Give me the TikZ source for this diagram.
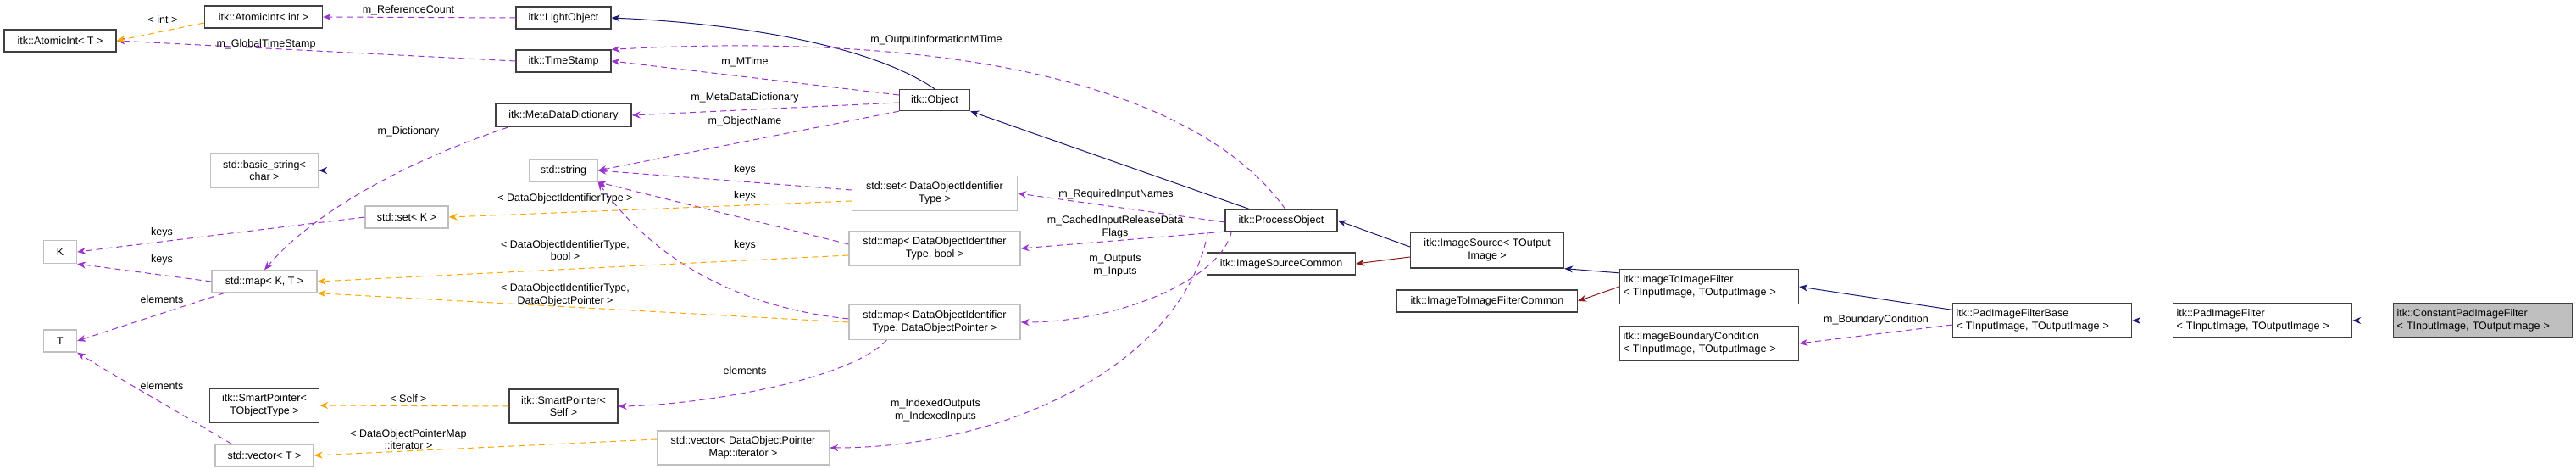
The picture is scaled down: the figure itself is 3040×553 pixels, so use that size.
\documentclass[tikz,border=0pt]{standalone}
\usepackage{fontspec}
\setmainfont{Liberation Sans}
\usetikzlibrary{arrows.meta}
\definecolor{inhblue}{HTML}{191970}
\definecolor{protred}{HTML}{8B1A1A}
\definecolor{usepurple}{HTML}{9A32CD}
\definecolor{tmplorange}{HTML}{FFA500}
\tikzset{
 cls/.style={rectangle, draw=black!75, line width=1.3pt, fill=white, inner sep=2pt, align=center, font=\fontsize{12.5}{14.5}\selectfont},
 ext/.style={cls, draw=black!25},
 lbl/.style={inner sep=0pt, align=center, font=\fontsize{12.5}{14.5}\selectfont},
 iline/.style={-{Stealth[length=10pt,width=8pt]}, inhblue, line width=1pt},
 rline/.style={-{Stealth[length=10pt,width=8pt]}, protred, line width=1pt},
 uline/.style={-{Stealth[length=10pt,width=8pt]}, usepurple, line width=1pt, dash pattern=on 7pt off 5pt},
 tline/.style={-{Stealth[length=10pt,width=8pt]}, tmplorange, line width=1pt, dash pattern=on 7pt off 5pt}
}
\begin{document}
\begin{tikzpicture}[x=1pt, y=-1pt]
\useasboundingbox (0,0) rectangle (3040,553);
% classes
\node (aiT) [cls, minimum width=132pt, minimum height=26pt] at (71,48) {itk::AtomicInt< T >};
\node (aiInt) [cls, minimum width=139pt, minimum height=26pt] at (311,20) {itk::AtomicInt< int >};
\node (light) [cls, minimum width=112pt, minimum height=26pt] at (665,21) {itk::LightObject};
\node (ts) [cls, minimum width=112pt, minimum height=26pt] at (665,72) {itk::TimeStamp};
\node (mdd) [cls, minimum width=160pt, minimum height=27pt] at (665,136) {itk::MetaDataDictionary};
\node (bstr) [ext, minimum width=127pt, minimum height=41pt] at (312,201) {std::basic\_string<\\char >};
\node (str) [ext, minimum width=80pt, minimum height=26pt] at (665,201) {std::string};
\node (setK) [ext, minimum width=98pt, minimum height=26pt] at (480,256) {std::set< K >};
\node (K) [ext, minimum width=39pt, minimum height=27pt] at (71,297) {K};
\node (mapKT) [ext, minimum width=124pt, minimum height=26pt] at (312,332) {std::map< K, T >};
\node (T) [ext, minimum width=39pt, minimum height=26pt] at (71,402) {T};
\node (spT) [cls, minimum width=129pt, minimum height=40pt] at (312,478) {itk::SmartPointer<\\TObjectType >};
\node (spS) [cls, minimum width=128pt, minimum height=40pt] at (665,479) {itk::SmartPointer<\\Self >};
\node (vecT) [ext, minimum width=116pt, minimum height=26pt] at (312,537) {std::vector< T >};
\node (obj) [cls, minimum width=83pt, minimum height=25pt] at (1103,118) {itk::Object};
\node (setD) [ext, minimum width=195pt, minimum height=41pt] at (1103,228) {std::set< DataObjectIdentifier\\Type >};
\node (mapDB) [ext, minimum width=202pt, minimum height=41pt] at (1103,293) {std::map< DataObjectIdentifier\\Type, bool >};
\node (mapDP) [ext, minimum width=202pt, minimum height=41pt] at (1103,380) {std::map< DataObjectIdentifier\\Type, DataObjectPointer >};
\node (vecD) [ext, minimum width=203pt, minimum height=40pt] at (877,528) {std::vector< DataObjectPointer\\Map::iterator >};
\node (po) [cls, minimum width=132pt, minimum height=25pt] at (1512,260) {itk::ProcessObject};
\node (isc) [cls, minimum width=175pt, minimum height=26pt] at (1512,311) {itk::ImageSourceCommon};
\node (is) [cls, minimum width=181pt, minimum height=42pt] at (1755,295) {itk::ImageSource< TOutput\\Image >};
\node (i2ifc) [cls, minimum width=213pt, minimum height=26pt] at (1755,355) {itk::ImageToImageFilterCommon};
\node (i2if) [cls, minimum width=211pt, minimum height=41pt, align=left, text width=203pt] at (2017,338) {itk::ImageToImageFilter\\< TInputImage, TOutputImage >};
\node (bc) [cls, minimum width=211pt, minimum height=41pt, align=left, text width=203pt] at (2017,405) {itk::ImageBoundaryCondition\\< TInputImage, TOutputImage >};
\node (base) [cls, minimum width=211pt, minimum height=40pt, align=left, text width=203pt] at (2410,378) {itk::PadImageFilterBase\\< TInputImage, TOutputImage >};
\node (pad) [cls, minimum width=211pt, minimum height=40pt, align=left, text width=203pt] at (2670,378) {itk::PadImageFilter\\< TInputImage, TOutputImage >};
\node (cpad) [cls, fill=black!25, minimum width=211pt, minimum height=40pt, align=left, text width=203pt] at (2930,378) {itk::ConstantPadImageFilter\\< TInputImage, TOutputImage >};
% inheritance
\draw[iline] (obj.north) .. controls (1030,55) and (880,28) .. (light.east);
\draw[iline] (po.north west) ++(30,0) coordinate (poT) -- (obj.south east);
\draw[iline] (is.west) ++(0,-4) -- (po.east);
\draw[iline] (i2if.north west) ++(0,5) -- (is.south east);
\draw[iline] (base.north west) ++(0,8) -- (i2if.east);
\draw[iline] (pad.west) -- (base.east);
\draw[iline] (cpad.west) -- (pad.east);
\draw[iline] (str.west) -- (bstr.east);
\draw[rline] (is.west) ++(0,8) -- (isc.east);
\draw[rline] (i2if.west) -- (i2ifc.east);
% members
\draw[uline] (light.west) -- (aiInt.east);
\draw[uline] (ts.west) -- (aiT.east);
\draw[uline] (obj.west) ++(0,-6) -- (ts.east);
\draw[uline] (po.north) ++(5,0) .. controls (1420,110) and (1150,35) .. (ts.north east);
\draw[uline] (obj.west) ++(0,3) -- (mdd.east);
\draw[uline] (obj.south west) -- (str.east);
\draw[uline] (mdd.south west) ++(15,0) .. controls (480,190) and (370,250) .. (mapKT.north);
\draw[uline] (setK.west) -- (K.east);
\draw[uline] (mapKT.west) -- (K.south east);
\draw[uline] (mapKT.south west) ++(15,0) -- (T.east);
\draw[uline] (vecT.north west) ++(20,0) .. controls (200,480) and (130,440) .. (T.south east);
\draw[uline] (setD.west) ++(0,-4) -- (str.east);
\draw[uline] (mapDB.west) ++(0,-5) -- (str.south east);
\draw[uline] (mapDP.west) ++(0,-4) .. controls (850,360) and (760,290) .. (str.south east);
\draw[uline] (mapDP.south west) ++(45,0) .. controls (1000,450) and (820,478) .. (spS.east);
\draw[uline] (po.west) ++(0,2) -- (setD.east);
\draw[uline] (po.south west) -- (mapDB.east);
\draw[uline] (po.south west) ++(8,0) .. controls (1440,330) and (1320,380) .. (mapDP.east);
\draw[uline] (po.south west) ++(-20,0) .. controls (1400,420) and (1200,528) .. (vecD.east);
\draw[uline] (base.west) ++(0,5) -- (bc.east);
% templates
\draw[tline] (aiInt.west) ++(0,7) -- (aiT.east);
\draw[tline] (setD.west) ++(0,9) -- (setK.east);
\draw[tline] (mapDB.west) ++(0,8) -- (mapKT.east);
\draw[tline] (mapDP.west) -- (mapKT.south east);
\draw[tline] (spS.west) -- (spT.east);
\draw[tline] (vecD.west) ++(0,-10) -- (vecT.east);
% labels
\node (lint) [lbl] at (192,23) {< int >};
\node (lref) [lbl] at (482,12) {m\_ReferenceCount};
\node (lgts) [lbl] at (314,52) {m\_GlobalTimeStamp};
\node (ldict) [lbl] at (482,155) {m\_Dictionary};
\node (ldoit) [lbl] at (667,234) {< DataObjectIdentifierType >};
\node (lk1) [lbl] at (191,274) {keys};
\node (lk2) [lbl] at (191,306) {keys};
\node (ldb) [lbl] at (667,295) {< DataObjectIdentifierType,\\bool >};
\node (ldp) [lbl] at (667,348) {< DataObjectIdentifierType,\\DataObjectPointer >};
\node (le1) [lbl] at (191,353) {elements};
\node (le2) [lbl] at (191,455) {elements};
\node (lself) [lbl] at (482,470) {< Self >};
\node (lit) [lbl] at (482,518) {< DataObjectPointerMap\\::iterator >};
\node (loim) [lbl] at (1105,47) {m\_OutputInformationMTime};
\node (lmt) [lbl] at (879,73) {m\_MTime};
\node (lmdd) [lbl] at (879,115) {m\_MetaDataDictionary};
\node (lon) [lbl] at (879,143) {m\_ObjectName};
\node (lk3) [lbl] at (879,200) {keys};
\node (lk4) [lbl] at (879,231) {keys};
\node (lk5) [lbl] at (879,289) {keys};
\node (lrin) [lbl] at (1317,229) {m\_RequiredInputNames};
\node (lcir) [lbl] at (1316,268) {m\_CachedInputReleaseData\\Flags};
\node (lio) [lbl] at (1316,313) {m\_Outputs\\m\_Inputs};
\node (le3) [lbl] at (879,437) {elements};
\node (lidx) [lbl] at (1104,484) {m\_IndexedOutputs\\m\_IndexedInputs};
\node (lbc) [lbl] at (2214,377) {m\_BoundaryCondition};
\end{tikzpicture}
\end{document}
